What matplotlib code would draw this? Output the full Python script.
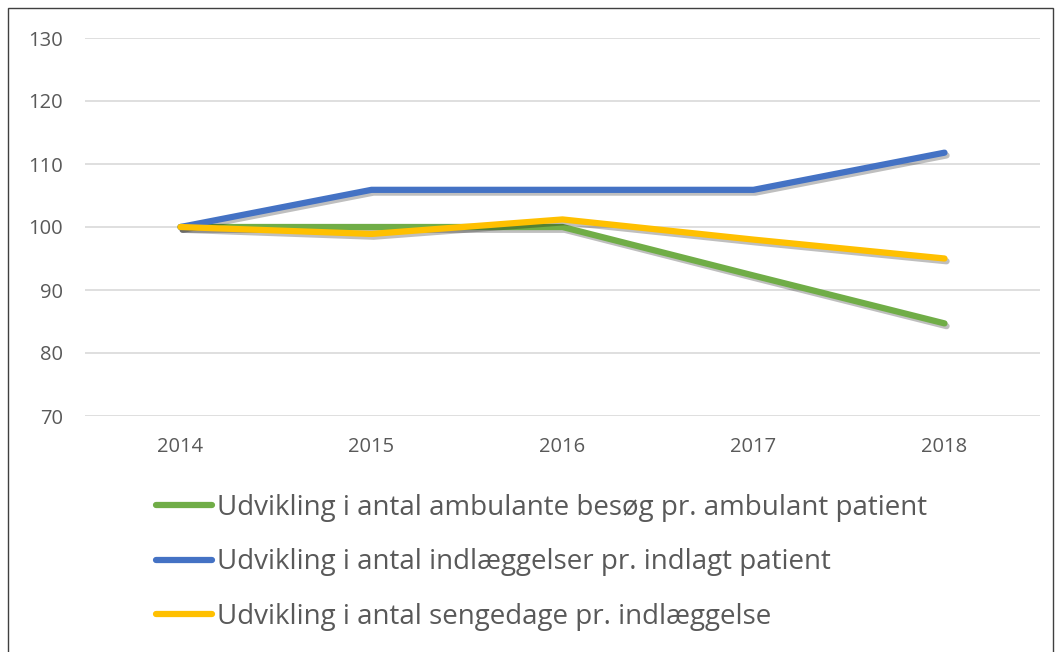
import matplotlib
matplotlib.use("Agg")
import matplotlib.pyplot as plt
import matplotlib.patheffects as pe
from matplotlib.patches import Rectangle
from matplotlib.lines import Line2D

# data
years = ["2014", "2015", "2016", "2017", "2018"]
ambulant = [100, 100, 100, 92.3, 84.7]
indlagt = [100, 105.9, 105.9, 105.9, 111.8]
sengedage = [100, 98.9, 101.2, 98.0, 95.0]

labels = ["Udvikling i antal ambulante besøg pr. ambulant patient",
          "Udvikling i antal indlæggelser pr. indlagt patient",
          "Udvikling i antal sengedage pr. indlæggelse"]
colors = ["#70AD47", "#4472C4", "#FFC000"]

plt.rcParams['font.family'] = ['Open Sans', 'DejaVu Sans']
grey = "#595959"

fig = plt.figure(figsize=(10.56, 6.52), dpi=100)
ax = fig.add_axes([85/1056, 1-416/652, (1040-85)/1056, (416-38)/652])

x = range(len(years))
#soft drop shadow under the lines
shadow = [pe.SimpleLineShadow(offset=(1.5, -2), shadow_color='k', alpha=0.25), pe.Normal()]
for vals, lab, col in zip([ambulant, indlagt, sengedage], labels, colors):
    ax.plot(x, vals, color=col, lw=4.5, solid_capstyle='round',
            solid_joinstyle='round', label=lab, path_effects=shadow, zorder=3)

ax.set_xlim(-0.5, 4.5)
ax.set_ylim(70, 130)
ax.set_yticks(range(70, 131, 10))
ax.set_xticks(list(x))
ax.set_xticklabels(years)
ax.grid(axis='y', color='#d9d9d9', lw=1.2)
ax.set_axisbelow(True)
for s in ax.spines.values():
    s.set_visible(False)
ax.tick_params(length=0, labelsize=14.5, colors=grey)
ax.tick_params(axis='y', pad=16)
ax.tick_params(axis='x', pad=15)

# legend
leg_handles = [Line2D([], [], color=c, lw=4.5, solid_capstyle='round') for c in colors]
fig.legend(leg_handles, labels, loc='upper left', bbox_to_anchor=(145/1056, 1-483/652),
           frameon=False, fontsize=20, handlelength=2.0, handletextpad=0.2,
           labelspacing=0.95, labelcolor=grey, borderaxespad=0)

# border around figure
fig.patches.append(Rectangle((8/1056, -0.05), (1053-8)/1056, 1.05-8/652,
                             transform=fig.transFigure, fill=False, ec='#404040', lw=1))

fig.savefig("out.png", dpi=100)
